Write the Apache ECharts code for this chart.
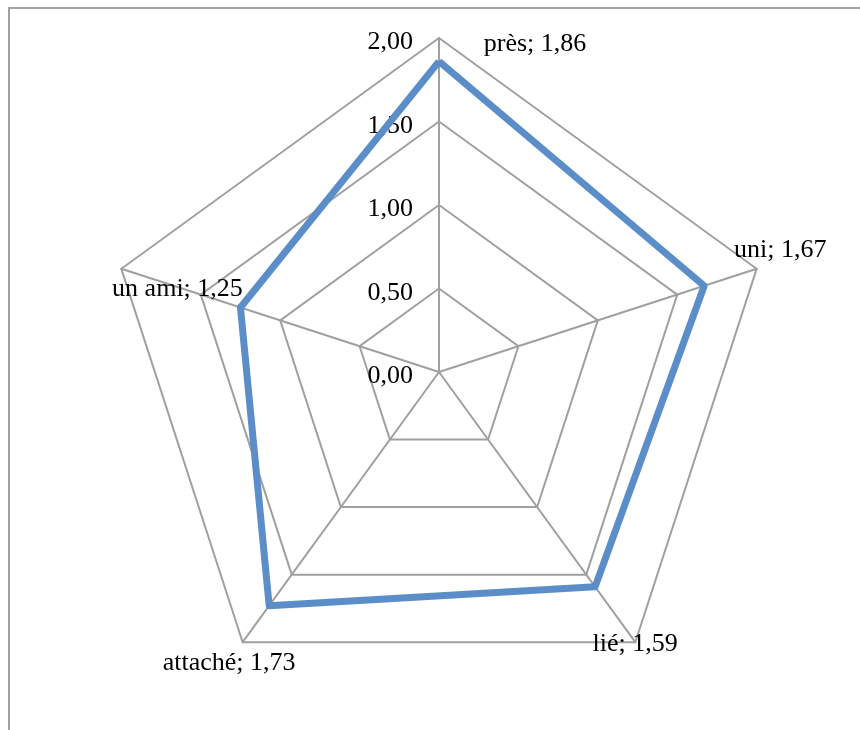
<!DOCTYPE html>
<html>
<head>
<meta charset="utf-8">
<script src="https://cdn.jsdelivr.net/npm/echarts@6/dist/echarts.min.js"></script>
<style>
  html, body { margin: 0; padding: 0; background: #ffffff; }
  #chart { width: 860px; height: 730px; }
</style>
</head>
<body>
<div id="chart"></div>
<script>
// Indicators in drawing order (counter-clockwise from the top)
var categories = ['près', 'un ami', 'attaché', 'lié', 'uni'];
var values = [1.86, 1.25, 1.73, 1.59, 1.67];
var scaleMax = 2;
var scaleStep = 0.5;

// Label nudges away from each point, one per indicator
var labelOffsets = [[96, -17], [-63, -18], [-40, 57], [40, 57], [76, -36]];

var FONT = '"Liberation Serif", "Times New Roman", serif';
var GRID_GREY = '#a0a0a0';
var LINE_BLUE = '#5b8ec8';

function frNum(v) {
  return v.toFixed(2).replace('.', ',');
}

var chart = echarts.init(document.getElementById('chart'), null, { renderer: 'canvas' });

// One visible polygon, plus transparent copies that each carry one data label
var seriesData = [{
  value: values,
  symbol: 'none',
  lineStyle: { color: LINE_BLUE, width: 7, opacity: 1 },
  label: { show: false }
}];
categories.forEach(function (name, k) {
  seriesData.push({
    value: values,
    symbol: 'circle',
    symbolSize: 1,
    lineStyle: { opacity: 0 },
    itemStyle: { color: 'rgba(0,0,0,0)', borderWidth: 0 },
    label: {
      show: true,
      position: 'inside',
      offset: labelOffsets[k],
      color: '#000000',
      fontFamily: FONT,
      fontSize: 26,
      formatter: function (p) {
        return p.dimensionIndex === k ? categories[k] + '; ' + frNum(values[k]) : '';
      }
    }
  });
});

chart.setOption({
  animation: false,
  backgroundColor: '#ffffff',
  graphic: [{
    type: 'rect',
    shape: { x: 9, y: 8, width: 900, height: 800 },
    style: { fill: 'none', stroke: GRID_GREY, lineWidth: 2 },
    z: 0
  }],
  // value scale for the tick labels along the upward axis (sits slightly low, like the labels)
  grid: { left: 439, top: 42.5, height: 334, width: 1 },
  xAxis: { type: 'value', show: false },
  yAxis: {
    type: 'value',
    min: 0,
    max: scaleMax,
    interval: scaleStep,
    axisLine: { show: false },
    axisTick: { show: false },
    splitLine: { show: false },
    axisLabel: {
      margin: 26,
      color: '#000000',
      fontFamily: FONT,
      fontSize: 26,
      formatter: function (v) { return frNum(v); }
    }
  },
  radar: {
    center: [439, 372],
    radius: 334,
    startAngle: 90,
    splitNumber: 4,
    shape: 'polygon',
    indicator: categories.map(function (c) { return { name: c, min: 0, max: scaleMax }; }),
    axisName: { show: false },
    axisLine: { lineStyle: { color: GRID_GREY, width: 2 } },
    splitLine: { lineStyle: { color: GRID_GREY, width: 2 } },
    splitArea: { show: false },
    axisLabel: { show: false },
    axisTick: { show: false }
  },
  series: [{
    type: 'radar',
    silent: true,
    data: seriesData
  }]
});
</script>
</body>
</html>
